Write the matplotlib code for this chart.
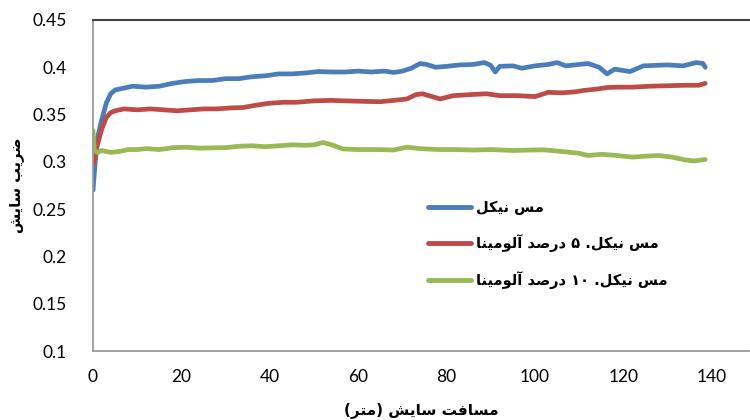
import matplotlib
matplotlib.use("Agg")
import matplotlib.pyplot as plt

# ---------------- data ----------------
blue_x = [0, 0.5, 1, 2, 3, 4, 5, 7, 9, 12, 15, 18, 21, 24, 27, 30, 33, 36, 39, 42, 45, 48, 51, 54,
          57, 60, 63, 66, 68, 70, 72, 74, 75.5, 77.5, 80, 83, 86, 88.5, 90, 91, 92, 95, 97, 100,
          103, 105, 107, 110, 112, 114.5, 116.3, 118, 121.5, 124.5, 127, 130, 133.5, 136.5, 138, 138.5]
blue_y = [0.270, 0.300, 0.325, 0.345, 0.362, 0.372, 0.376, 0.378, 0.380, 0.379, 0.380, 0.383, 0.385,
          0.386, 0.386, 0.388, 0.388, 0.390, 0.391, 0.393, 0.393, 0.394, 0.3955, 0.395, 0.395, 0.396,
          0.395, 0.396, 0.3945, 0.396, 0.399, 0.404, 0.403, 0.400, 0.401, 0.4025, 0.403, 0.405, 0.402,
          0.395, 0.401, 0.4015, 0.399, 0.4015, 0.403, 0.405, 0.4015, 0.403, 0.404, 0.400, 0.393, 0.398,
          0.3955, 0.4015, 0.402, 0.4025, 0.4015, 0.405, 0.404, 0.400]

red_x = [0, 0.5, 1, 2, 3, 4, 5, 7, 10, 13, 16, 19, 22, 25, 28, 31, 34, 37, 40, 43, 46, 50, 54, 57,
         61, 65, 68, 71, 73, 74.5, 76, 78.5, 81.5, 85, 89, 92, 96, 100, 103, 106, 109, 111, 114,
         116.5, 119, 122, 126, 130, 134, 137, 138.5]
red_y = [0.297, 0.305, 0.318, 0.335, 0.347, 0.352, 0.354, 0.356, 0.355, 0.356, 0.355, 0.354, 0.355,
         0.356, 0.356, 0.357, 0.3575, 0.360, 0.362, 0.363, 0.363, 0.3645, 0.365, 0.3645, 0.364, 0.3636,
         0.365, 0.3665, 0.371, 0.372, 0.370, 0.3665, 0.370, 0.371, 0.372, 0.370, 0.370, 0.369, 0.3735,
         0.373, 0.374, 0.3755, 0.377, 0.3787, 0.379, 0.379, 0.380, 0.3805, 0.381, 0.381, 0.383]

green_x = [0, 0.3, 1, 2, 4, 6, 8, 10, 12, 15, 18, 21, 24, 27, 30, 33, 36, 39, 42, 45, 48, 50, 52,
           54, 56.5, 60, 64, 68, 71, 74, 78, 82, 86, 90, 95, 99, 102, 106, 110, 112, 115, 118, 122,
           125, 128, 131, 134, 136, 138.5]
green_y = [0.333, 0.312, 0.310, 0.312, 0.310, 0.311, 0.313, 0.313, 0.314, 0.313, 0.315, 0.3155,
           0.3145, 0.3148, 0.315, 0.3165, 0.317, 0.316, 0.317, 0.318, 0.3175, 0.318, 0.3205, 0.318,
           0.3137, 0.313, 0.313, 0.3125, 0.3155, 0.314, 0.313, 0.313, 0.3125, 0.313, 0.312, 0.3125,
           0.3127, 0.311, 0.309, 0.3067, 0.308, 0.307, 0.305, 0.306, 0.3067, 0.305, 0.302, 0.301, 0.3025]

series_labels = ["مس نیکل", "مس نیکل. ۵ درصد آلومینا", "مس نیکل. ۱۰ درصد آلومینا"]
x_label = "مسافت سایش (متر)"
y_label = "ضریب سایش"
x_ticks = [0, 20, 40, 60, 80, 100, 120, 140]
y_ticks = [0.1, 0.15, 0.2, 0.25, 0.3, 0.35, 0.4, 0.45]
y_tick_labels = ["0.1", "0.15", "0.2", "0.25", "0.3", "0.35", "0.4", "0.45"]

# ------------- minimal Persian shaping (no bidi engine available) -------------
FORMS = {  # isolated, final, initial, medial
    "ا": ("\uFE8D", "\uFE8E", None, None),
    "آ": ("\uFE81", "\uFE82", None, None),
    "د": ("\uFEA9", "\uFEAA", None, None),
    "ر": ("\uFEAD", "\uFEAE", None, None),
    "و": ("\uFEED", "\uFEEE", None, None),
    "ب": ("\uFE8F", "\uFE90", "\uFE91", "\uFE92"),
    "ت": ("\uFE95", "\uFE96", "\uFE97", "\uFE98"),
    "س": ("\uFEB1", "\uFEB2", "\uFEB3", "\uFEB4"),
    "ش": ("\uFEB5", "\uFEB6", "\uFEB7", "\uFEB8"),
    "ص": ("\uFEB9", "\uFEBA", "\uFEBB", "\uFEBC"),
    "ض": ("\uFEBD", "\uFEBE", "\uFEBF", "\uFEC0"),
    "ف": ("\uFED1", "\uFED2", "\uFED3", "\uFED4"),
    "ل": ("\uFEDD", "\uFEDE", "\uFEDF", "\uFEE0"),
    "م": ("\uFEE1", "\uFEE2", "\uFEE3", "\uFEE4"),
    "ن": ("\uFEE5", "\uFEE6", "\uFEE7", "\uFEE8"),
    "ی": ("\uFBFC", "\uFBFD", "\uFBFE", "\uFBFF"),
    "ک": ("\uFB8E", "\uFB8F", "\uFB90", "\uFB91"),
}


def dual(c):
    return c in FORMS and FORMS[c][2] is not None


def joins(c):
    return c in FORMS


def shape(text):
    out = []
    n = len(text)
    for i, c in enumerate(text):
        if c not in FORMS:
            out.append(c)
            continue
        prev_c = text[i - 1] if i > 0 else ""
        next_c = text[i + 1] if i < n - 1 else ""
        cp = dual(prev_c)
        cn = dual(c) and joins(next_c)
        iso, fin, ini, med = FORMS[c]
        if cp and cn:
            out.append(med)
        elif cp:
            out.append(fin)
        elif cn:
            out.append(ini)
        else:
            out.append(iso)
    # visual order: reverse, keep digit runs LTR, mirror brackets
    rev = out[::-1]
    mirror = {"(": ")", ")": "("}
    rev = [mirror.get(c, c) for c in rev]
    res = []
    i = 0
    while i < len(rev):
        if rev[i].isdigit():
            j = i
            while j < len(rev) and rev[j].isdigit():
                j += 1
            res.extend(rev[i:j][::-1])
            i = j
        else:
            res.append(rev[i])
            i += 1
    return "".join(res)


# ---------------- figure ----------------
plt.rcParams["font.family"] = ["Lato", "DejaVu Sans"]
fig = plt.figure(figsize=(7.5, 4.2), dpi=100)
ax = fig.add_axes([93 / 750, 1 - 351 / 420, (749 - 93) / 750, (351 - 20) / 420])

colors = ["#4A7EBB", "#BE4B48", "#98B954"]
for xs, ys, c, lab in [(blue_x, blue_y, colors[0], series_labels[0]),
                       (red_x, red_y, colors[1], series_labels[1]),
                       (green_x, green_y, colors[2], series_labels[2])]:
    ax.plot(xs, ys, color=c, lw=3.4, solid_joinstyle="round", solid_capstyle="round",
            label=shape(lab))

ax.set_xlim(0, 148.4)
ax.set_ylim(0.1, 0.45)
ax.set_xticks(x_ticks)
ax.set_yticks(y_ticks)
ax.set_yticklabels(y_tick_labels)
ax.tick_params(axis="both", length=0, labelsize=12.5, colors="#000000")
ax.tick_params(axis="y", pad=19)
ax.tick_params(axis="x", pad=13)

for s in ["left", "bottom"]:
    ax.spines[s].set_color("#9A9A9A")
    ax.spines[s].set_linewidth(1.3)
ax.spines["top"].set_color("#404040")
ax.spines["top"].set_linewidth(1.5)
ax.spines["right"].set_visible(False)

ax.set_xlabel(shape(x_label), family="DejaVu Sans", fontweight="bold", fontsize=11, labelpad=12)
ax.set_ylabel(shape(y_label), family="DejaVu Sans", fontweight="bold", fontsize=10.5, labelpad=6)

leg = ax.legend(loc="upper left", bbox_to_anchor=(421 / 750, 1 - 193 / 420),
                bbox_transform=fig.transFigure, frameon=False, borderpad=0,
                handlelength=2.9, handletextpad=0.35, labelspacing=1.3,
                prop={"family": "DejaVu Sans", "weight": "bold", "size": 10.5})
for h in leg.legend_handles:
    h.set_linewidth(3.5)

fig.savefig("out.png", dpi=100)
